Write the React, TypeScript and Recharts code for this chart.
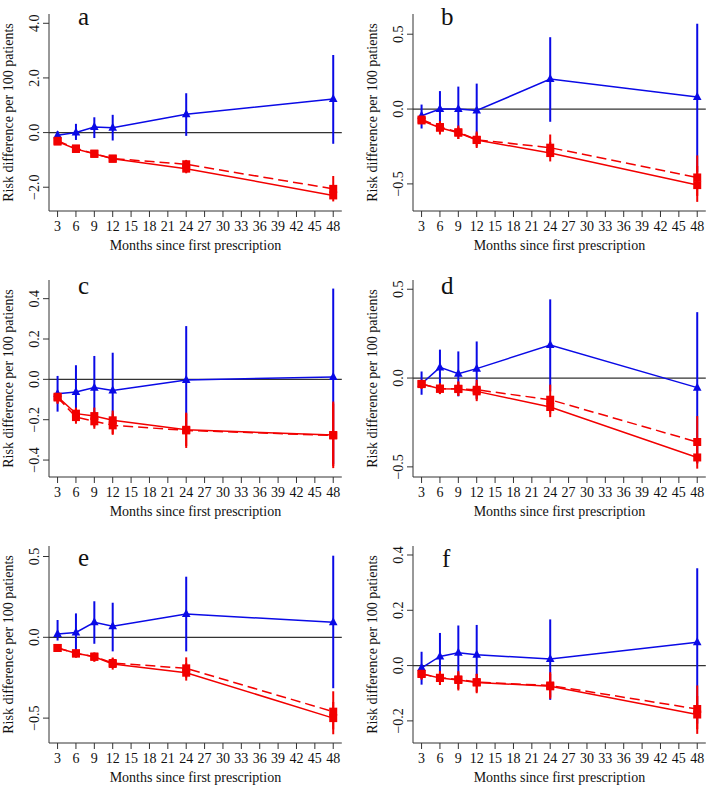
import { ComposedChart, Line, XAxis, YAxis, ErrorBar, ReferenceLine } from "recharts";

const months = [3, 6, 9, 12, 24, 48];
const xTicks = [3, 6, 9, 12, 15, 18, 21, 24, 27, 30, 33, 36, 39, 42, 45, 48];

// panel a
const aBlue = [-0.1, 0.0, 0.2, 0.18, 0.67, 1.23];
const aBlueCI = [[-0.22, 0.05], [-0.27, 0.32], [-0.2, 0.56], [-0.29, 0.65], [-0.12, 1.44], [-0.41, 2.84]];
const aRed = [-0.33, -0.6, -0.78, -0.96, -1.32, -2.3];
const aRedCI = [[-0.42, -0.24], [-0.72, -0.5], [-0.88, -0.68], [-1.05, -0.87], [-1.49, -1.12], [-2.52, -2.05]];
const aDash = [-0.3, -0.58, -0.77, -0.95, -1.16, -2.06];
const aDashCI = [[-0.4, -0.21], [-0.7, -0.47], [-0.87, -0.67], [-1.04, -0.86], [-1.35, -1.0], [-2.35, -1.59]];
const aYTicks = [-2, 0, 2, 4];

// panel b
const bBlue = [-0.045, 0.0, 0.0, -0.01, 0.2, 0.08];
const bBlueCI = [[-0.13, 0.03], [-0.15, 0.12], [-0.16, 0.15], [-0.18, 0.17], [-0.085, 0.48], [-0.42, 0.57]];
const bRed = [-0.076, -0.125, -0.158, -0.207, -0.294, -0.508];
const bRedCI = [[-0.1, -0.05], [-0.17, -0.09], [-0.2, -0.12], [-0.26, -0.16], [-0.35, -0.22], [-0.62, -0.38]];
const bDash = [-0.07, -0.12, -0.155, -0.205, -0.258, -0.457];
const bDashCI = [[-0.1, -0.045], [-0.16, -0.08], [-0.2, -0.11], [-0.25, -0.15], [-0.32, -0.17], [-0.58, -0.31]];
const bYTicks = [-0.5, 0, 0.5];

// panel c
const cBlue = [-0.071, -0.063, -0.041, -0.055, -0.003, 0.012];
const cBlueCI = [[-0.16, 0.017], [-0.18, 0.07], [-0.195, 0.116], [-0.245, 0.132], [-0.26, 0.264], [-0.42, 0.45]];
const cRed = [-0.086, -0.17, -0.182, -0.203, -0.25, -0.276];
const cRedCI = [[-0.12, -0.06], [-0.21, -0.14], [-0.235, -0.14], [-0.27, -0.155], [-0.33, -0.17], [-0.43, -0.12]];
const cDash = [-0.09, -0.187, -0.208, -0.228, -0.253, -0.278];
const cDashCI = [[-0.12, -0.06], [-0.22, -0.15], [-0.245, -0.16], [-0.275, -0.17], [-0.34, -0.165], [-0.44, -0.11]];
const cYTicks = [-0.4, -0.2, 0, 0.2, 0.4];

// panel d
const dBlue = [-0.032, 0.06, 0.024, 0.053, 0.186, -0.054];
const dBlueCI = [[-0.094, 0.037], [-0.09, 0.16], [-0.103, 0.15], [-0.116, 0.206], [-0.075, 0.443], [-0.48, 0.371]];
const dRed = [-0.034, -0.06, -0.062, -0.075, -0.163, -0.447];
const dRedCI = [[-0.06, -0.01], [-0.09, -0.03], [-0.1, -0.02], [-0.13, -0.03], [-0.22, -0.1], [-0.51, -0.38]];
const dDash = [-0.033, -0.06, -0.06, -0.066, -0.122, -0.36];
const dDashCI = [[-0.06, -0.01], [-0.09, -0.03], [-0.1, -0.02], [-0.12, -0.01], [-0.2, -0.037], [-0.48, -0.214]];
const dYTicks = [-0.5, 0, 0.5];

// panel e
const eBlue = [0.02, 0.03, 0.093, 0.068, 0.144, 0.093];
const eBlueCI = [[-0.02, 0.107], [-0.08, 0.148], [-0.04, 0.223], [-0.087, 0.214], [-0.087, 0.375], [-0.315, 0.505]];
const eRed = [-0.066, -0.099, -0.12, -0.165, -0.219, -0.5];
const eRedCI = [[-0.08, -0.05], [-0.125, -0.08], [-0.15, -0.095], [-0.2, -0.13], [-0.268, -0.16], [-0.6, -0.4]];
const eDash = [-0.066, -0.1, -0.12, -0.159, -0.192, -0.46];
const eDashCI = [[-0.08, -0.05], [-0.125, -0.08], [-0.15, -0.095], [-0.19, -0.125], [-0.25, -0.124], [-0.57, -0.334]];
const eYTicks = [-0.5, 0, 0.5];

// panel f
const fBlue = [-0.008, 0.033, 0.046, 0.039, 0.024, 0.084];
const fBlueCI = [[-0.069, 0.05], [-0.04, 0.118], [-0.04, 0.145], [-0.05, 0.147], [-0.124, 0.167], [-0.21, 0.352]];
const fRed = [-0.03, -0.045, -0.052, -0.061, -0.075, -0.177];
const fRedCI = [[-0.05, -0.01], [-0.07, -0.02], [-0.09, -0.025], [-0.1, -0.03], [-0.12, -0.03], [-0.247, -0.11]];
const fDash = [-0.03, -0.044, -0.05, -0.06, -0.072, -0.157];
const fDashCI = [[-0.05, -0.01], [-0.07, -0.02], [-0.085, -0.02], [-0.095, -0.03], [-0.115, -0.024], [-0.23, -0.072]];
const fYTicks = [-0.2, 0, 0.2, 0.4];

const BLUE = "#0a0ae6";
const RED = "#f20000";
const AXIS = "#333";
const FONT = '"Liberation Serif", "Times New Roman", serif';

const panels = [
  { letter: "a", blue: aBlue, blueCI: aBlueCI, red: aRed, redCI: aRedCI, dash: aDash, dashCI: aDashCI, yTicks: aYTicks, domain: [-2.87, 4.34], left: 0, top: 0, axisX: 49, width: 354, lx: 78, ly: 24.5 },
  { letter: "b", blue: bBlue, blueCI: bBlueCI, red: bRed, redCI: bRedCI, dash: bDash, dashCI: bDashCI, yTicks: bYTicks, domain: [-0.681, 0.635], left: 354, top: 0, axisX: 59, width: 355, lx: 87, ly: 25 },
  { letter: "c", blue: cBlue, blueCI: cBlueCI, red: cRed, redCI: cRedCI, dash: cDash, dashCI: cDashCI, yTicks: cYTicks, domain: [-0.484, 0.4925], left: 0, top: 266, axisX: 49, width: 354, lx: 78, ly: 28 },
  { letter: "d", blue: dBlue, blueCI: dBlueCI, red: dRed, redCI: dRedCI, dash: dDash, dashCI: dDashCI, yTicks: dYTicks, domain: [-0.557, 0.552], left: 354, top: 266, axisX: 59, width: 355, lx: 87, ly: 28 },
  { letter: "e", blue: eBlue, blueCI: eBlueCI, red: eRed, redCI: eRedCI, dash: eDash, dashCI: eDashCI, yTicks: eYTicks, domain: [-0.654, 0.565], left: 0, top: 532, axisX: 49, width: 354, lx: 78, ly: 34 },
  { letter: "f", blue: fBlue, blueCI: fBlueCI, red: fRed, redCI: fRedCI, dash: fDash, dashCI: fDashCI, yTicks: fYTicks, domain: [-0.28, 0.4325], left: 354, top: 532, axisX: 59, width: 355, lx: 88, ly: 35 },
];

const PLOT_TOP = 14;
const PLOT_W = 292.8;
const CHART_H = 255;
const X_AXIS_H = 44;

const fmt = (v: number) => {
  const s = Math.abs(v).toFixed(1);
  return v < -1e-9 ? "\u2212" + s : s;
};

const Triangle = (p: any) => {
  const { cx, cy } = p;
  if (cx == null || cy == null) return <g />;
  return <polygon points={`${cx},${cy - 5} ${cx - 4.3},${cy + 3} ${cx + 4.3},${cy + 3}`} fill={BLUE} />;
};

const Square = (p: any) => {
  const { cx, cy } = p;
  if (cx == null || cy == null) return <g />;
  return <rect x={cx - 4} y={cy - 4} width={8} height={8} fill={RED} />;
};

const XTick = (p: any) => (
  <text x={p.x} y={p.y} dy="0.71em" textAnchor="middle" fontSize={14} fontFamily={FONT} fill="#111">
    {p.payload.value}
  </text>
);

const YTick = (p: any) => (
  <text
    x={p.x}
    y={p.y}
    transform={`rotate(-90 ${p.x} ${p.y})`}
    textAnchor="middle"
    fontSize={14}
    fontFamily={FONT}
    fill="#111"
  >
    {fmt(p.payload.value)}
  </text>
);

function Panel({ cfg }: { cfg: any }) {
  const data = months.map((m, i) => ({
    month: m,
    blue: cfg.blue[i],
    blueErr: [cfg.blue[i] - cfg.blueCI[i][0], cfg.blueCI[i][1] - cfg.blue[i]],
    red: cfg.red[i],
    redErr: [cfg.red[i] - cfg.redCI[i][0], cfg.redCI[i][1] - cfg.red[i]],
    dash: cfg.dash[i],
    dashErr: [cfg.dash[i] - cfg.dashCI[i][0], cfg.dashCI[i][1] - cfg.dash[i]],
  }));
  const right = cfg.width - cfg.axisX - PLOT_W;
  const plotH = CHART_H - PLOT_TOP - X_AXIS_H;
  const plotMidX = cfg.axisX + PLOT_W / 2;
  const plotMidY = PLOT_TOP + plotH / 2;
  const titleX = cfg.axisX - 36;

  const yLabel = () => (
    <g>
      <text
        x={titleX}
        y={plotMidY}
        transform={`rotate(-90 ${titleX} ${plotMidY})`}
        textAnchor="middle"
        fontSize={14}
        fontFamily={FONT}
        fill="#111"
      >
        Risk difference per 100 patients
      </text>
      <text x={cfg.lx} y={cfg.ly} fontSize={25} fontFamily={FONT} fill="#111">
        {cfg.letter}
      </text>
    </g>
  );

  const xLabel = () => (
    <text x={plotMidX} y={PLOT_TOP + plotH + 39} textAnchor="middle" fontSize={14} fontFamily={FONT} fill="#111">
      Months since first prescription
    </text>
  );

  return (
    <div style={{ position: "absolute", left: cfg.left, top: cfg.top }}>
      <ComposedChart
        width={cfg.width}
        height={CHART_H}
        data={data}
        margin={{ top: PLOT_TOP, right, bottom: 0, left: 0 }}
      >
        <XAxis
          dataKey="month"
          type="number"
          domain={[1.6, 49.4]}
          ticks={xTicks}
          interval={0}
          height={X_AXIS_H}
          tickSize={6}
          tickMargin={4}
          stroke={AXIS}
          tick={<XTick />}
          label={xLabel}
          allowDataOverflow
        />
        <YAxis
          type="number"
          domain={cfg.domain}
          ticks={cfg.yTicks}
          interval={0}
          width={cfg.axisX}
          tickSize={6}
          tickMargin={4}
          stroke={AXIS}
          tick={<YTick />}
          label={yLabel}
          allowDataOverflow
        />
        <ReferenceLine y={0} stroke={AXIS} strokeWidth={1.3} />
        <Line
          dataKey="blue"
          stroke={BLUE}
          strokeWidth={1.5}
          dot={<Triangle />}
          activeDot={false}
          isAnimationActive={false}
          legendType="none"
        >
          <ErrorBar dataKey="blueErr" width={0} stroke={BLUE} strokeWidth={2} direction="y" />
        </Line>
        <Line
          dataKey="dash"
          stroke={RED}
          strokeWidth={1.5}
          strokeDasharray="10 5"
          dot={<Square />}
          activeDot={false}
          isAnimationActive={false}
          legendType="none"
        >
          <ErrorBar dataKey="dashErr" width={0} stroke={RED} strokeWidth={2} direction="y" />
        </Line>
        <Line
          dataKey="red"
          stroke={RED}
          strokeWidth={1.5}
          dot={<Square />}
          activeDot={false}
          isAnimationActive={false}
          legendType="none"
        >
          <ErrorBar dataKey="redErr" width={0} stroke={RED} strokeWidth={2} direction="y" />
        </Line>
      </ComposedChart>
    </div>
  );
}

export default function App() {
  return (
    <div style={{ position: "absolute", left: 0, top: 0, width: 709, height: 787, background: "#fff" }}>
      {panels.map((cfg) => (
        <Panel key={cfg.letter} cfg={cfg} />
      ))}
    </div>
  );
}
